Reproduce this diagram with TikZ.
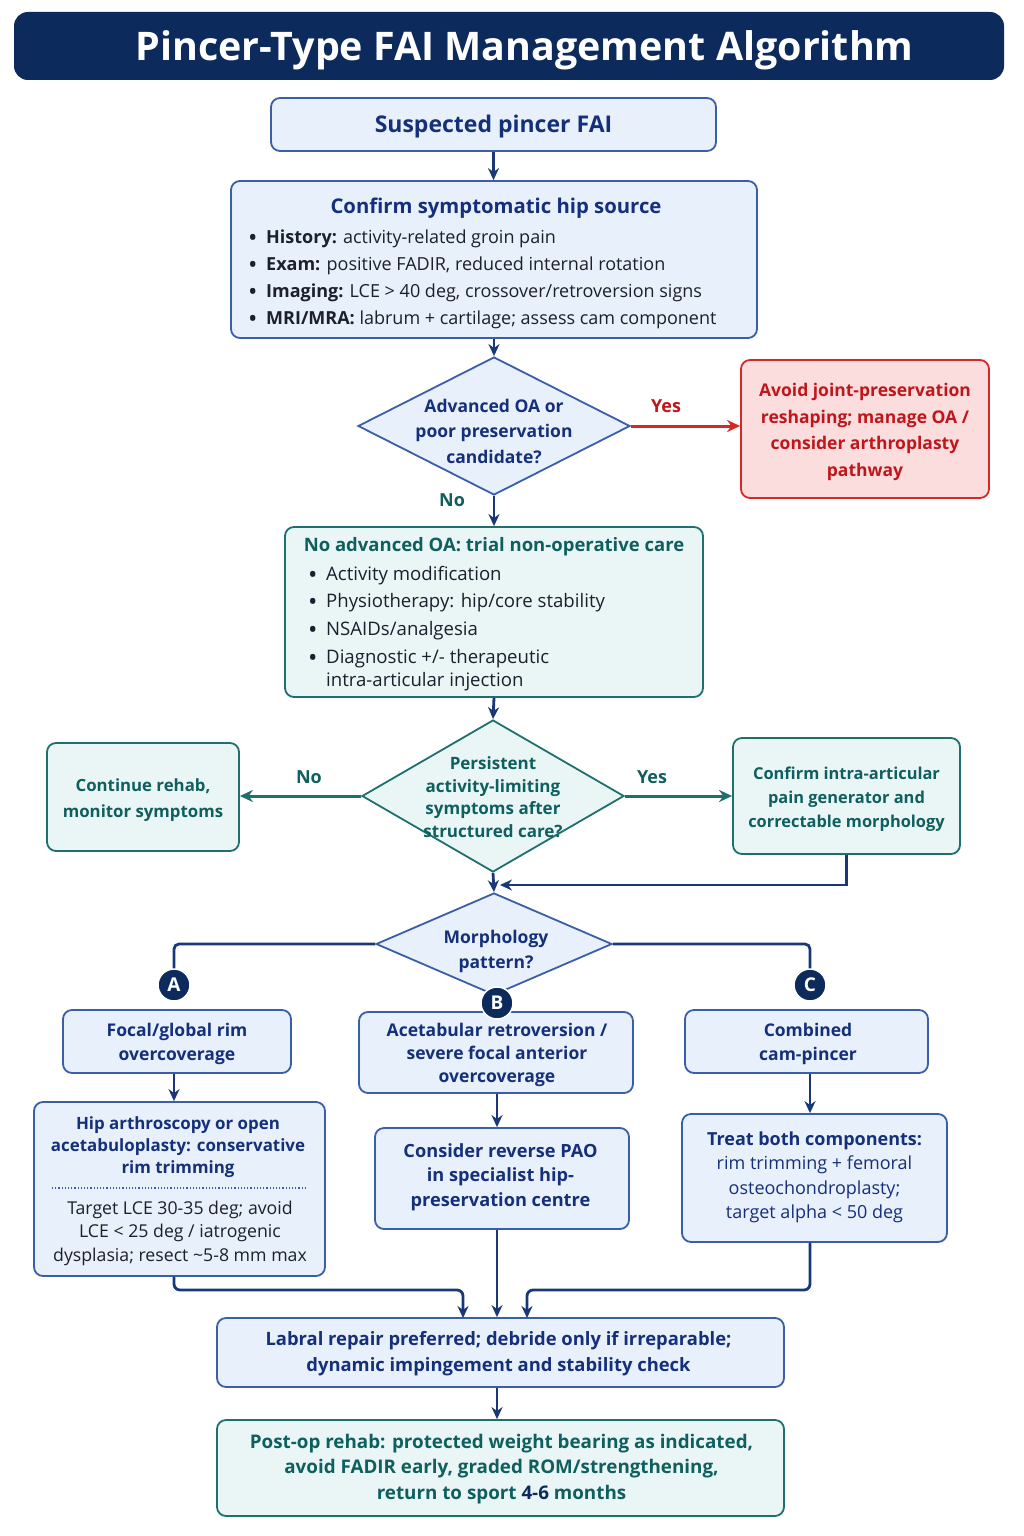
\documentclass[tikz,border=0pt]{standalone}
\usepackage{fontspec}
\setmainfont{Open Sans}
\usetikzlibrary{shapes.geometric,arrows.meta}
\definecolor{navy}{HTML}{0C2A5C}
\definecolor{bluetxt}{HTML}{15307A}
\definecolor{blueline}{HTML}{3A5EA8}
\definecolor{bluefill}{HTML}{E8F0FB}
\definecolor{tealline}{HTML}{1F6F6E}
\definecolor{tealtxt}{HTML}{0F5F5F}
\definecolor{tealfill}{HTML}{EAF6F5}
\definecolor{redline}{HTML}{D62828}
\definecolor{redtxt}{HTML}{C0161B}
\definecolor{redfill}{HTML}{FBDDDD}
\definecolor{arrowc}{HTML}{1A3778}
\definecolor{bodytxt}{HTML}{1C1F2E}
\newcommand{\bl}{\makebox[18pt][l]{\raisebox{-2.5pt}{\fontsize{25}{25}\selectfont\textbullet}}}
\tikzset{
  box/.style={draw, rounded corners=9pt, line width=1.8pt, inner sep=0pt, align=center},
  bluebox/.style={box, draw=blueline, fill=bluefill, text=bluetxt},
  tealbox/.style={box, draw=tealline, fill=tealfill, text=tealtxt},
  redbox/.style={box, draw=redline, fill=redfill, text=redtxt},
  bluedia/.style={diamond, draw=blueline, fill=bluefill, line width=1.8pt, inner sep=0pt},
  tealdia/.style={diamond, draw=tealline, fill=tealfill, line width=1.8pt, inner sep=0pt},
  txt/.style={inner sep=0pt, align=center},
  bul/.style={inner sep=0pt, anchor=west, text=bodytxt, font=\fontsize{18}{24}\selectfont},
  conn/.style={line width=2.8pt, draw=arrowc, -{Stealth[length=12pt,width=11pt]}},
  plainline/.style={line width=2.8pt, draw=arrowc},
  tealconn/.style={line width=3pt, draw=tealline, -{Stealth[length=13pt,width=12pt]}},
  redconn/.style={line width=3pt, draw=redline, -{Stealth[length=13pt,width=12pt]}},
  lab/.style={inner sep=0pt, font=\fontsize{18}{22}\selectfont\bfseries},
  letter/.style={circle, fill=navy, draw=white, line width=1.5pt, minimum size=32pt, inner sep=0pt, text=white, font=\fontsize{19}{20}\selectfont\bfseries}
}
\begin{document}
\begin{tikzpicture}[x=1pt,y=-1pt]
\useasboundingbox (0,0) rectangle (1024,1536);
\fill[white] (0,0) rectangle (1024,1536);

% title
\node[fill=navy, rounded corners=14pt, minimum width=990pt, minimum height=68pt, inner sep=0pt] (title) at (509,46) {};
\node[txt, text=white, font=\fontsize{39.4}{42}\selectfont\bfseries] (titlet) at (524.5,50) {Pincer-Type FAI Management Algorithm};

% suspected
\node[bluebox, minimum width=445pt, minimum height=53pt] (susp) at (493.5,124.5) {};
\node[txt, text=bluetxt, font=\fontsize{23}{26}\selectfont\bfseries] (suspt) at (493.5,127) {Suspected pincer FAI};

% confirm
\node[bluebox, minimum width=526pt, minimum height=157pt] (conf) at (494,259.5) {};
\node[txt, text=bluetxt, font=\fontsize{20.3}{24}\selectfont\bfseries] (conft) at (496,208) {Confirm symptomatic hip source};
\node[bul] (c1) at (248,239) {\bl\textbf{History:} activity-related groin pain};
\node[bul] (c2) at (248,266) {\bl\textbf{Exam:} positive FADIR, reduced internal rotation};
\node[bul] (c3) at (248,293) {\bl\textbf{Imaging:} LCE > 40 deg, crossover/retroversion signs};
\node[bul] (c4) at (248,320) {\bl\textbf{MRI/MRA:} labrum + cartilage; assess cam component};

% diamond 1
\node[bluedia, minimum width=272pt, minimum height=138pt] (d1) at (494,426) {};
\node[txt, text=bluetxt, font=\fontsize{17.5}{25.5}\selectfont\bfseries] (d1t) at (494,431) {Advanced OA or\\poor preservation\\candidate?};

% red box
\node[redbox, minimum width=248pt, minimum height=138pt] (red) at (865,429) {};
\node[txt, text=redtxt, font=\fontsize{17.5}{26.5}\selectfont\bfseries] (redt) at (865,432) {Avoid joint-preservation\\reshaping; manage OA /\\consider arthroplasty\\pathway};

% teal box
\node[tealbox, minimum width=418pt, minimum height=170pt] (nonop) at (494,612) {};
\node[txt, text=tealtxt, font=\fontsize{18.5}{24}\selectfont\bfseries] (nonopt) at (494,547) {No advanced OA: trial non-operative care};
\node[bul, font=\fontsize{18.6}{24}\selectfont] (n1) at (308,576) {\bl Activity modification};
\node[bul, font=\fontsize{18.6}{24}\selectfont] (n2) at (308,603) {\bl Physiotherapy: hip/core stability};
\node[bul, font=\fontsize{18.6}{24}\selectfont] (n3) at (308,631) {\bl NSAIDs/analgesia};
\node[bul, font=\fontsize{18.6}{24}\selectfont] (n4) at (308,659) {\bl Diagnostic +/- therapeutic};
\node[bul, font=\fontsize{18.6}{24}\selectfont] (n5) at (326,682) {intra-articular injection};

% diamond 2
\node[tealdia, minimum width=262pt, minimum height=152pt] (d2) at (493,796) {};
\node[txt, text=tealtxt, font=\fontsize{17}{22.5}\selectfont\bfseries] (d2t) at (493,797) {Persistent\\activity-limiting\\symptoms after\\structured care?};

\node[tealbox, minimum width=192pt, minimum height=108pt] (contl) at (143,797) {};
\node[txt, text=tealtxt, font=\fontsize{16.8}{26}\selectfont\bfseries] (contlt) at (143,800) {Continue rehab,\\monitor symptoms};
\node[tealbox, minimum width=227pt, minimum height=116pt] (contr) at (846.5,796) {};
\node[txt, text=tealtxt, font=\fontsize{16.4}{24}\selectfont\bfseries] (contrt) at (846.5,799) {Confirm intra-articular\\pain generator and\\correctable morphology};

% diamond 3
\node[bluedia, minimum width=236pt, minimum height=102pt] (d3) at (494,944) {};
\node[txt, text=bluetxt, font=\fontsize{17.5}{25}\selectfont\bfseries] (d3t) at (496,951) {Morphology\\pattern?};

% branch boxes
\node[bluebox, minimum width=228pt, minimum height=63pt] (ba) at (177,1041.5) {};
\node[txt, text=bluetxt, font=\fontsize{17.5}{24}\selectfont\bfseries] (bat) at (177,1044) {Focal/global rim\\overcoverage};
\node[bluebox, minimum width=274pt, minimum height=81pt] (bb) at (496,1052.5) {};
\node[txt, text=bluetxt, font=\fontsize{17.5}{23}\selectfont\bfseries] (bbt) at (497,1055) {Acetabular retroversion /\\severe focal anterior\\overcoverage};
\node[bluebox, minimum width=243pt, minimum height=63pt] (bc) at (806.5,1041.5) {};
\node[txt, text=bluetxt, font=\fontsize{17.5}{24}\selectfont\bfseries] (bct) at (808,1044) {Combined\\cam-pincer};

\node[letter] (la) at (174,985) {A};
\node[letter] (lc) at (810,985) {C};

% second row
\node[bluebox, minimum width=291pt, minimum height=174pt] (a2) at (179.5,1189) {};
\node[txt, text=bluetxt, font=\fontsize{16.9}{22}\selectfont\bfseries] (a2t) at (178,1147) {Hip arthroscopy or open\\acetabuloplasty: conservative\\rim trimming};
\draw[blueline, line width=1.2pt, dotted] (52,1188) -- (305,1188);
\node[txt, text=bodytxt, font=\fontsize{17.7}{23.5}\selectfont] (a2b) at (180,1233) {Target LCE 30-35 deg; avoid\\LCE < 25 deg / iatrogenic\\dysplasia; resect \textasciitilde5-8 mm max};

\node[bluebox, minimum width=254pt, minimum height=101pt] (b2) at (502,1178.5) {};
\node[txt, text=bluetxt, font=\fontsize{18.2}{24.5}\selectfont\bfseries] (b2t) at (500.5,1177) {Consider reverse PAO\\in specialist hip-\\preservation centre};

\node[bluebox, minimum width=265pt, minimum height=128pt] (c2) at (814.5,1178) {};
\node[txt, text=bluetxt, font=\fontsize{18}{24.5}\selectfont] (c2t) at (814.5,1177.5) {\textbf{Treat both components:}\\rim trimming + femoral\\osteochondroplasty;\\target alpha < 50 deg};

% bottom boxes
\node[bluebox, minimum width=567pt, minimum height=69pt] (labral) at (500.5,1352.5) {};
\node[txt, text=bluetxt, font=\fontsize{18.4}{26}\selectfont\bfseries] (labralt) at (498.5,1354) {Labral repair preferred; debride only if irreparable;\\dynamic impingement and stability check};
\node[tealbox, minimum width=567pt, minimum height=96pt] (postop) at (500.5,1468) {};
\node[txt, text=tealtxt, font=\fontsize{18.8}{25.5}\selectfont\bfseries] (postopt) at (501.5,1469) {Post-op rehab: protected weight bearing as indicated,\\avoid FADIR early, graded ROM/strengthening,\\return to sport \textcolor{navy}{4-6} months};

% connectors
\draw[conn] (susp.south) -- (susp.south |- conf.north);
\draw[conn] (conf.south) -- (d1.north);
\draw[redconn] (d1.east) -- (d1.east -| red.west);
\node[lab, text=redtxt] (yes1) at (666,406) {Yes};
\draw[conn] (d1.south) -- (nonop.north);
\node[lab, text=tealtxt] (no1) at (452,500) {No};
\draw[conn] (nonop.south) -- (d2.north);
\draw[tealconn] (d2.west) -- (d2.west -| contl.east);
\node[lab, text=tealtxt] (no2) at (309,777) {No};
\draw[tealconn] (d2.east) -- (d2.east -| contr.west);
\node[lab, text=tealtxt] (yes2) at (652,777) {Yes};
\draw[conn] (d2.south) -- (d3.north);
\coordinate (mj) at (500,885);
\draw[conn] (contr.south) |- (mj);
\draw[plainline, rounded corners=5pt] (d3.west) -| (la.north);
\draw[plainline, rounded corners=5pt] (d3.east) -| (lc.north);
\node[letter] (lb) at (497,1003) {B};
\draw[conn] (la |- ba.south) -- (la |- a2.north);
\draw[conn] (lb |- bb.south) -- (lb |- b2.north);
\draw[conn] (lc |- bc.south) -- (lc |- c2.north);
\coordinate (ja) at (463,1318);
\coordinate (jc) at (527,1318);
\draw[conn, rounded corners=6pt] (la |- a2.south) -- (174,1290) -| (ja);
\draw[conn] (lb |- b2.south) -- (lb |- labral.north);
\draw[conn, rounded corners=6pt] (lc |- c2.south) -- (810,1290) -| (jc);
\draw[conn] (lb |- labral.south) -- (lb |- postop.north);
\end{tikzpicture}
\end{document}
